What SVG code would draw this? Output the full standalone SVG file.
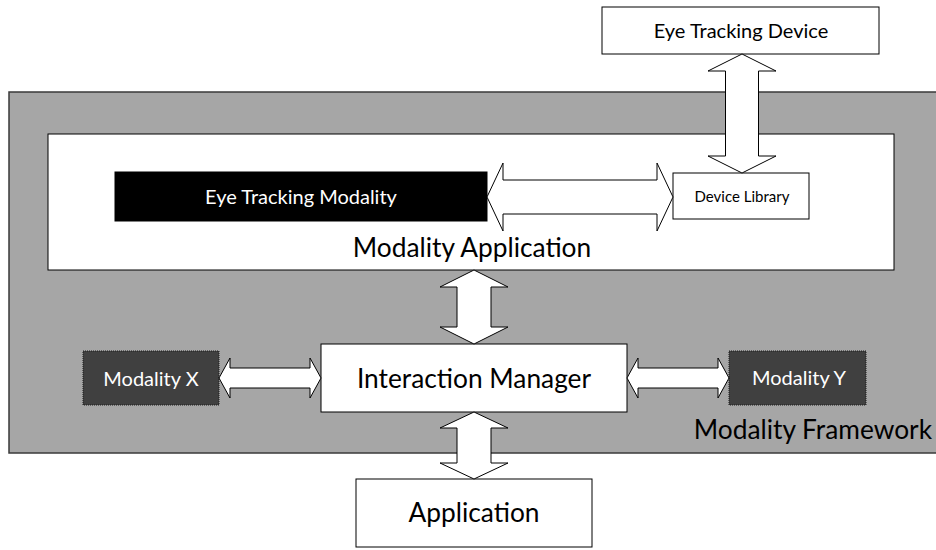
<svg xmlns="http://www.w3.org/2000/svg" width="936" height="550" viewBox="0 0 936 550">
  <style>
    .box { fill: #ffffff; stroke: #000000; stroke-width: 1; }
    .dark { fill: #000000; stroke: #000000; stroke-width: 1; }
    .mod { fill: #404040; stroke: #1a1a1a; stroke-width: 1; stroke-dasharray: 1 1; }
    .frame { fill: #a6a6a6; stroke: #3a3a3a; stroke-width: 1.5; }
    .arrow { fill: #ffffff; stroke: #000000; stroke-width: 1; stroke-linejoin: miter; }
    text { font-family: Lato, "Open Sans", "Liberation Sans", sans-serif; text-anchor: middle; fill: #000000; }
    .inv { fill: #ffffff; }
    .end { text-anchor: end; }
    .s16 { font-size: 15px; }
    .s21 { font-size: 20px; }
    .s28 { font-size: 26.3px; }
  </style>

  <!-- outer framework -->
  <g id="modality-framework">
    <rect class="frame" x="9" y="92" width="935" height="361"/>
    <text class="s28 end" x="932" y="439">Modality Framework</text>
  </g>

  <!-- modality application container -->
  <g id="modality-application">
    <rect class="box" x="48" y="134" width="846" height="136"/>
    <text class="s28" x="472" y="257">Modality Application</text>
  </g>

  <g id="eye-tracking-device">
    <rect class="box" x="602" y="7" width="277" height="47"/>
    <text class="s21" x="741" y="38">Eye Tracking Device</text>
  </g>

  <g id="eye-tracking-modality">
    <rect class="dark" x="115" y="172" width="372" height="49"/>
    <text class="s21 inv" x="301" y="204">Eye Tracking Modality</text>
  </g>

  <g id="device-library">
    <rect class="box" x="673" y="173" width="136" height="46"/>
    <text class="s16" x="742" y="202">Device Library</text>
  </g>

  <g id="interaction-manager">
    <rect class="box" x="321" y="344" width="306" height="68"/>
    <text class="s28" x="474" y="388">Interaction Manager</text>
  </g>

  <g id="modality-x">
    <rect class="mod" x="83" y="351" width="136" height="54"/>
    <text class="s21 inv" x="151" y="386">Modality X</text>
  </g>

  <g id="modality-y">
    <rect class="mod" x="729" y="351" width="137" height="54"/>
    <text class="s21 inv" x="799" y="385">Modality Y</text>
  </g>

  <g id="application">
    <rect class="box" x="356" y="479" width="236" height="68"/>
    <text class="s28" x="474" y="522">Application</text>
  </g>

  <!-- block double arrows -->
  <g id="connectors">
    <!-- eye tracking modality <-> device library -->
    <polygon class="arrow" points="487,197 503,163 503,180 657,180 657,163 673,197 657,231 657,214 503,214 503,231"/>
    <!-- eye tracking device <-> device library -->
    <polygon class="arrow" points="742,54 776,71 758.5,71 758.5,156 776,156 742,173 708,156 725.5,156 725.5,71 708,71"/>
    <!-- modality application <-> interaction manager -->
    <polygon class="arrow" points="474,270 508,287 491,287 491,327 508,327 474,344 440,327 457,327 457,287 440,287"/>
    <!-- interaction manager <-> application -->
    <polygon class="arrow" points="474,412 508,428 491,428 491,463 508,463 474,479 440,463 457,463 457,428 440,428"/>
    <!-- modality x <-> interaction manager -->
    <polygon class="arrow" points="219,378 230,358 230,368 310,368 310,358 321,378 310,398 310,388 230,388 230,398"/>
    <!-- interaction manager <-> modality y -->
    <polygon class="arrow" points="627,378 638,358 638,368 718,368 718,358 729,378 718,398 718,388 638,388 638,398"/>
  </g>
</svg>
